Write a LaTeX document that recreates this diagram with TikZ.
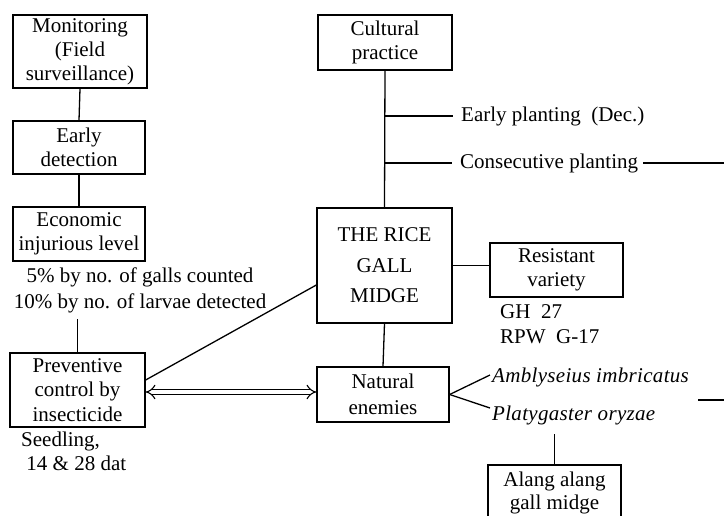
\documentclass[tikz,border=0pt]{standalone}
\usepackage{fontspec}
\setmainfont{Liberation Serif}
\usetikzlibrary{arrows.meta}
\begin{document}
\begin{tikzpicture}[x=1pt,y=-1pt,
  box/.style={draw, line width=1.3pt, align=center, inner sep=0pt, font=\fontsize{21}{24}\selectfont},
  lbl/.style={align=left, inner sep=0pt, font=\fontsize{21}{24}\selectfont},
  conn/.style={line width=1.3pt}]
\useasboundingbox (0,0) rectangle (724,515);
\clip (0,0) rectangle (724,515);
% boxes
\node[box, minimum width=134pt, minimum height=73pt] (mon) at (80,51.5) {Monitoring\\(Field\\surveillance)};
\node[box, minimum width=132pt, minimum height=53pt] (det) at (79,147.5) {Early\\detection};
\node[box, minimum width=132pt, minimum height=54pt] (eco) at (79,234) {Economic\\injurious level};
\node[box, minimum width=135pt, minimum height=74pt, font=\fontsize{21}{24.5}\selectfont] (prev) at (77.5,390) {Preventive\\control by\\insecticide};
\node[box, minimum width=134pt, minimum height=55pt, font=\fontsize{21}{23.5}\selectfont] (cult) at (385,42.5) {Cultural\\practice};
\node[box, minimum width=135pt, minimum height=115pt, font=\fontsize{21}{30.5}\selectfont] (rice) at (384.5,265.5) {THE RICE\\GALL\\MIDGE};
\node[box, minimum width=133pt, minimum height=54pt] (res) at (556.5,270) {Resistant\\variety};
\node[box, minimum width=132pt, minimum height=55pt, font=\fontsize{21}{26}\selectfont] (nat) at (383,394.5) {Natural\\enemies};
\node[box, minimum width=133pt, minimum height=56pt, font=\fontsize{21}{23.5}\selectfont] (alang) at (554.5,493) {Alang alang\\gall midge};
% labels
\node[lbl, align=center, font=\fontsize{21}{26}\selectfont] (ecotext) at (140,290) {5\% by no. of galls counted\\10\% by no. of larvae detected};
\node[lbl, anchor=north west] (seed) at (21,432) {Seedling,\\\ 14 \& 28 dat};
\node[lbl, anchor=west] (early) at (461,116) {Early planting\ \ (Dec.)};
\node[lbl, anchor=west] (cons) at (460,163) {Consecutive planting};
\node[lbl, anchor=west] (gh) at (500,312) {GH\ \ 27};
\node[lbl, anchor=west] (rpw) at (500,337) {RPW\ \ G-17};
\node[lbl, anchor=west, font=\fontsize{21}{24}\selectfont\itshape\addfontfeatures{LetterSpace=1.5}] (amb) at (492,377) {Amblyseius imbricatus};
\node[lbl, anchor=west, font=\fontsize{21}{24}\selectfont\itshape\addfontfeatures{LetterSpace=1.5}] (pla) at (492,415) {Platygaster oryzae};
% free ends
\coordinate (consend) at (724,163);
\coordinate (rs) at (698,400);
\coordinate (re) at (724,400);
% connectors
\draw[conn] (mon.south) -- (det.north);
\draw[conn] (det.south) -- (eco.north);
\draw[conn] (prev.north) -- ++(0,-33);
\draw[conn] (cult.south) -- (rice.north);
\draw[conn] (cult.south |- early.west) -- ([xshift=-8pt]early.west);
\draw[conn] (cult.south |- cons.west) -- ([xshift=-8pt]cons.west);
\draw[conn] ([xshift=5pt]cons.east) -- (consend);
\draw[conn] (rice.east) -- (rice.east -| res.west);
\draw[conn] (rice.south) -- (nat.north);
\draw[conn] ([yshift=10pt]prev.east) -- ([yshift=-19.5pt]rice.west);
\draw[line width=1.1pt, double, double distance=4pt, {Implies[length=8pt,width=13pt]}-{Implies[length=8pt,width=13pt]}] ([yshift=-2pt]prev.east) -- ([yshift=-2pt]prev.east -| nat.west);
\draw[conn] (nat.east) -- ([xshift=-2pt,yshift=2pt]amb.west);
\draw[conn] (nat.east) -- ([xshift=-2pt,yshift=7pt]pla.west);
\draw[conn] (rs) -- (re);
\draw[conn] (alang.north) -- ++(0,-30);
\end{tikzpicture}
\end{document}
